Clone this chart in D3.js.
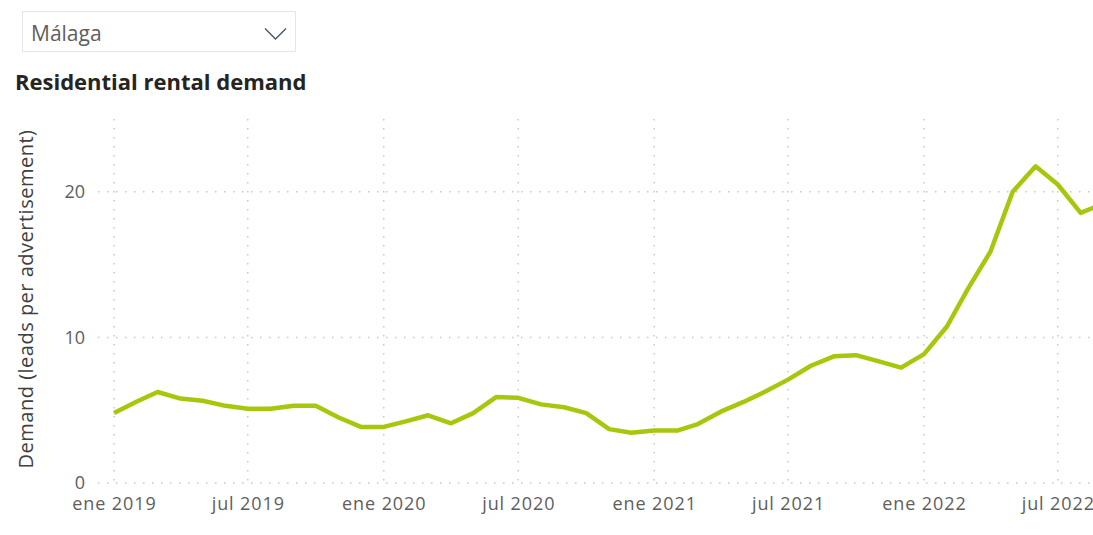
<!DOCTYPE html>
<html>
<head>
<meta charset="utf-8">
<script src="https://cdn.jsdelivr.net/npm/d3@7"></script>
<style>
  html, body { margin: 0; padding: 0; background: #fff; overflow: hidden; }
  svg { display: block; font-family: "Open Sans", "Noto Sans", sans-serif; }
</style>
</head>
<body>
<svg id="chart" width="1093" height="535"></svg>
<script>
// ---- Data ----
const selectedCity = "Málaga";
const chartTitle = "Residential rental demand";
const yAxisTitle = "Demand (leads per advertisement)";
const months = [
  "2019-01","2019-02","2019-03","2019-04","2019-05","2019-06","2019-07","2019-08","2019-09","2019-10","2019-11","2019-12",
  "2020-01","2020-02","2020-03","2020-04","2020-05","2020-06","2020-07","2020-08","2020-09","2020-10","2020-11","2020-12",
  "2021-01","2021-02","2021-03","2021-04","2021-05","2021-06","2021-07","2021-08","2021-09","2021-10","2021-11","2021-12",
  "2022-01","2022-02","2022-03","2022-04","2022-05","2022-06","2022-07","2022-08","2022-09"
];
const demand = [
  4.8, 5.6, 6.25, 5.8, 5.65, 5.3, 5.1, 5.1, 5.3, 5.3, 4.5, 3.85,
  3.85, 4.25, 4.65, 4.1, 4.8, 5.9, 5.85, 5.4, 5.2, 4.8, 3.7, 3.45,
  3.6, 3.6, 4.05, 4.9, 5.55, 6.3, 7.1, 8.05, 8.7, 8.78, 8.35, 7.92,
  8.85, 10.75, 13.3, 15.9, 20.0, 21.75, 20.5, 18.55, 19.2
];
const xTickDates = ["2019-01","2019-07","2020-01","2020-07","2021-01","2021-07","2022-01","2022-07"];
const xTickLabels = ["ene 2019","jul 2019","ene 2020","jul 2020","ene 2021","jul 2021","ene 2022","jul 2022"];
const yTicks = [0, 10, 20];

// ---- Layout ----
const parse = d3.timeParse("%Y-%m");
const svg = d3.select("#chart");
const plotLeft = 98, plotRight = 1093, plotTop = 119, plotBottom = 483;

const x = d3.scaleTime()
  .domain([parse("2019-01"), parse("2022-01")])
  .range([114, 924]);
const y = d3.scaleLinear().domain([0, 25]).range([plotBottom, plotTop]);

// Dropdown slicer
svg.append("rect")
  .attr("x", 22.5).attr("y", 11.5).attr("width", 273).attr("height", 40)
  .attr("fill", "#fff").attr("stroke", "#e6e6e6").attr("stroke-width", 1);
svg.append("text")
  .attr("x", 31).attr("y", 41)
  .attr("font-size", 21).attr("fill", "#605e5c")
  .text(selectedCity);
svg.append("path")
  .attr("d", "M265,28.5 L275.5,39 L286,28.5")
  .attr("fill", "none").attr("stroke", "#44546a").attr("stroke-width", 1.3);

// Title
svg.append("text")
  .attr("x", 15).attr("y", 90)
  .attr("font-size", 22).attr("font-weight", 700).attr("fill", "#252423")
  .text(chartTitle);

// Gridlines
const grid = svg.append("g");
grid.selectAll("line.h").data(yTicks).join("line")
  .attr("class", "h")
  .attr("x1", plotLeft).attr("x2", plotRight)
  .attr("y1", d => y(d)).attr("y2", d => y(d))
  .attr("stroke", "#c8c8c8").attr("stroke-width", 1.5)
  .attr("stroke-dasharray", "1.5,7.5");
grid.selectAll("line.v").data(xTickDates).join("line")
  .attr("class", "v")
  .attr("x1", d => x(parse(d))).attr("x2", d => x(parse(d)))
  .attr("y1", plotTop).attr("y2", plotBottom)
  .attr("stroke", "#c8c8c8").attr("stroke-width", 1.5)
  .attr("stroke-dasharray", "1.5,7.5");

// Y axis
const yAxis = d3.axisLeft(y).tickValues(yTicks).tickSize(0).tickPadding(0);
const yg = svg.append("g").attr("transform", "translate(85,0)").call(yAxis);
yg.select(".domain").remove();
yg.selectAll("text").attr("font-size", 18).attr("fill", "#605e5c")
  .attr("font-family", "'Open Sans', sans-serif").attr("dy", "0.33em");

// X axis
const xAxis = d3.axisBottom(x)
  .tickValues(xTickDates.map(parse))
  .tickFormat((d, i) => xTickLabels[i])
  .tickSize(0).tickPadding(0);
const xg = svg.append("g").attr("transform", `translate(0,${plotBottom})`).call(xAxis);
xg.select(".domain").remove();
xg.selectAll("text").attr("font-size", 18).attr("fill", "#605e5c")
  .attr("font-family", "'Open Sans', sans-serif")
  .attr("dy", null).attr("y", 27).attr("letter-spacing", "0.9px");

// Y axis title
svg.append("text")
  .attr("transform", "translate(33,299) rotate(-90)")
  .attr("text-anchor", "middle")
  .attr("font-size", 20).attr("fill", "#404040")
  .attr("letter-spacing", "0.5px")
  .text(yAxisTitle);

// Line
const line = d3.line()
  .x((d, i) => x(parse(months[i])))
  .y(d => y(d));
svg.append("path")
  .datum(demand)
  .attr("d", line)
  .attr("fill", "none")
  .attr("stroke", "#a6c80c")
  .attr("stroke-width", 4.5)
  .attr("stroke-linejoin", "round");
</script>
</body>
</html>
